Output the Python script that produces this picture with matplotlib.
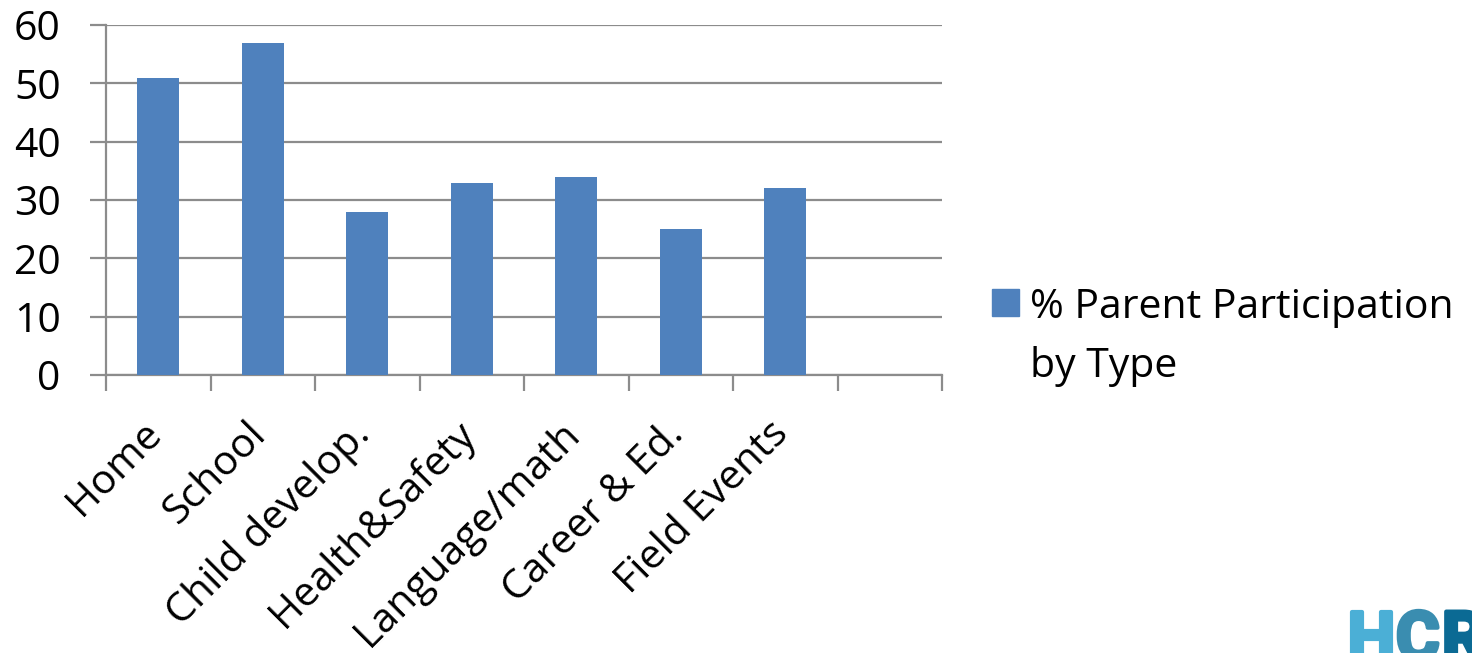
import matplotlib.pyplot as plt
import matplotlib.transforms as mtransforms
import matplotlib.patheffects as pe
from matplotlib.patches import Rectangle

categories = ['Home', 'School', 'Child develop.', 'Health&Safety',
              'Language/math', 'Career & Ed.', 'Field Events']
participation = [51, 57, 28, 33, 34, 25, 32]
series_label = ['% Parent Participation', 'by Type']
y_ticks = [0, 10, 20, 30, 40, 50, 60]
logo_letters = ['H', 'C', 'R']
logo_colors = ['#4BAFD6', '#3A8DB0', '#0B6A94']

bar_color = '#4F81BD'
grid_color = '#8C8C8C'

plt.rcParams['font.family'] = ['Open Sans', 'DejaVu Sans']
fsize = 29.5

W, H = 1472, 653
fig = plt.figure(figsize=(W / 100, H / 100), dpi=100)
ax = fig.add_axes([106 / W, 1 - 375 / H, (942 - 106) / W, 350 / H])

# one spare (empty) category slot on the right
n_slots = len(categories) + 1
xs = list(range(len(categories)))
ax.bar(xs, participation, width=0.4, color=bar_color, zorder=3)

ax.set_xlim(-0.5, n_slots - 0.5)
ax.set_ylim(0, 60)
ax.set_yticks(y_ticks)
ax.yaxis.grid(True, color=grid_color, lw=1.6)
ax.set_axisbelow(True)
for s in ['top', 'right']:
    ax.spines[s].set_visible(False)
for s in ['left', 'bottom']:
    ax.spines[s].set_color(grid_color)
    ax.spines[s].set_linewidth(1.6)

ax.tick_params(axis='y', length=11.5, width=1.6, color=grid_color,
               pad=21, labelsize=fsize)

ax.set_xticks(xs)
ax.set_xticklabels(categories, rotation=45, ha='right', va='top',
                   rotation_mode='anchor')
ax.set_xticks([i - 0.5 for i in range(n_slots + 1)], minor=True)
ax.tick_params(axis='x', which='major', length=0, pad=28, labelsize=fsize)
ax.tick_params(axis='x', which='minor', length=11.5, width=1.6,
               color=grid_color)
shift = mtransforms.ScaledTranslation(-17 / 100, 0, fig.dpi_scale_trans)
for lbl in ax.get_xticklabels():
    lbl.set_transform(lbl.get_transform() + shift)

# legend: square marker and two-line series name
fig.patches.append(Rectangle((992 / W, 1 - 316 / H), 27 / W, 27 / H,
                             transform=fig.transFigure, color=bar_color))
fig.text(1030 / W, 1 - 318 / H, series_label[0], fontsize=fsize,
         ha='left', va='baseline')
fig.text(1030 / W, 1 - 377 / H, series_label[1], fontsize=fsize,
         ha='left', va='baseline')

# logo letters in the lower right corner, thickened with a stroke
logo_x = [1348, 1396, 1442]
for ch, c, lx in zip(logo_letters, logo_colors, logo_x):
    fig.text(lx / W, -6 / H, ch, color=c, fontsize=48, fontweight='bold',
             family='Roboto', ha='left', va='baseline',
             path_effects=[pe.withStroke(linewidth=3, foreground=c)])

fig.savefig('out.png', dpi=100)
